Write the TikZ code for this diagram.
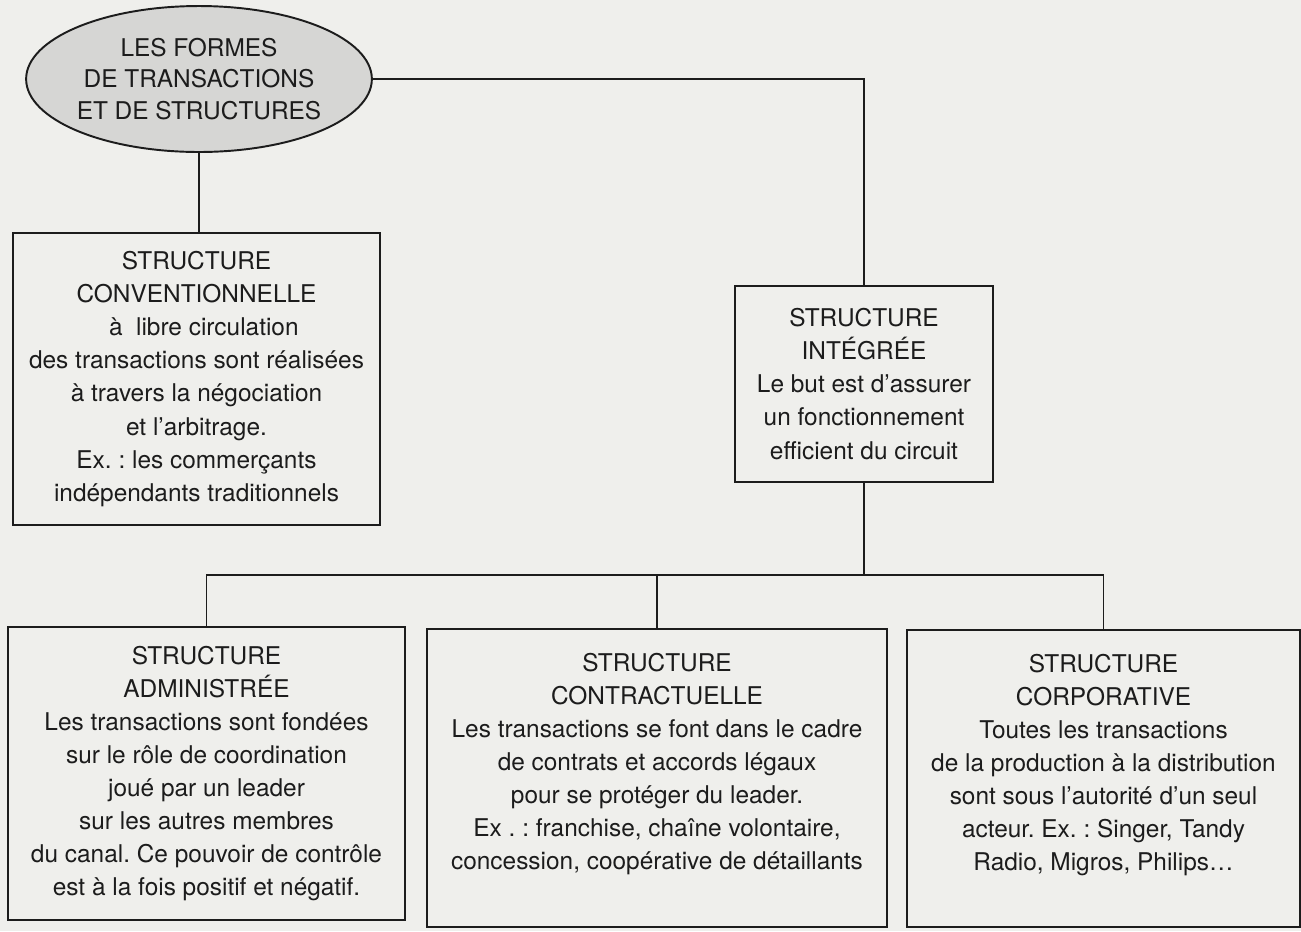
\documentclass[tikz,border=0pt]{standalone}
\usepackage{fontspec}
\setmainfont{TeX Gyre Heros}
\usetikzlibrary{shapes.geometric}
\frenchspacing

\definecolor{paper}{RGB}{239,239,236}
\definecolor{shade}{RGB}{214,214,212}
\definecolor{ink}{RGB}{28,28,28}

\def \lineWidth {1.1pt}

\tikzset{
  box/.style={draw=ink, line width=\lineWidth, rectangle, align=center, inner sep=0pt},
  title/.style={draw=ink, line width=\lineWidth, ellipse, fill=shade, align=center, inner sep=0pt,
    font=\fontsize{13.9}{17.9}\selectfont},
  link/.style={draw=ink, line width=\lineWidth}
}

\begin{document}
\begin{tikzpicture}[x=0.02cm, y=-0.02cm, font=\fontsize{13.9}{18.8}\selectfont, text=ink]
         \fill[paper] (0,0) rectangle (1301,931);
         \useasboundingbox (0,0) rectangle (1301,931);
         \node[title, minimum width=6.84cm, minimum height=2.92cm] (formes) at (199,79) {LES FORMES\\DE TRANSACTIONS\\ET DE STRUCTURES};
         \node[box, minimum width=7.34cm, minimum height=5.84cm] (conv) at (196.5,379) {STRUCTURE\\CONVENTIONNELLE\\\mbox{}\hspace{0.6em}à\ \ libre circulation\\des transactions sont réalisées\\à travers la négociation\\et l’arbitrage.\\Ex. : les commerçants\\indépendants traditionnels};
         \node[box, minimum width=5.16cm, minimum height=3.92cm] (integ) at (864,384) {STRUCTURE\\INTÉGRÉE\\Le but est d’assurer\\un fonctionnement\\efficient du circuit};
         \node[box, minimum width=7.94cm, minimum height=5.86cm] (admin) at (206.5,773.5) {STRUCTURE\\ADMINISTRÉE\\Les transactions sont fondées\\sur le rôle de coordination\\joué par un leader\\sur les autres membres\\du canal. Ce pouvoir de contrôle\\est à la fois positif et négatif.};
         \node[box, minimum width=9.2cm, minimum height=5.96cm] (contr) at (657,778) {STRUCTURE\\CONTRACTUELLE\\Les transactions se font dans le cadre\\de contrats et accords légaux\\pour se protéger du leader.\\Ex . : franchise, chaîne volontaire,\\concession, coopérative de détaillants\\\mbox{}};
         \node[box, minimum width=7.86cm, minimum height=5.94cm] (corp) at (1103.5,778.5) {STRUCTURE\\CORPORATIVE\\Toutes les transactions\\de la production à la distribution\\sont sous l’autorité d’un seul\\acteur. Ex. : Singer, Tandy\\Radio, Migros, Philips\ldots\\\mbox{}};
         \coordinate (bus) at (0,575);
         \draw[link] (formes.south) -- (formes.south |- conv.north);
         \draw[link] (formes.east) -| (integ.north);
         \draw[link] (integ.south) -- (integ.south |- bus);
         \draw[link] (admin.north) |- (bus -| corp.north) -- (corp.north);
         \draw[link] (contr.north) -- (contr.north |- bus);
      \end{tikzpicture}
\end{document}
